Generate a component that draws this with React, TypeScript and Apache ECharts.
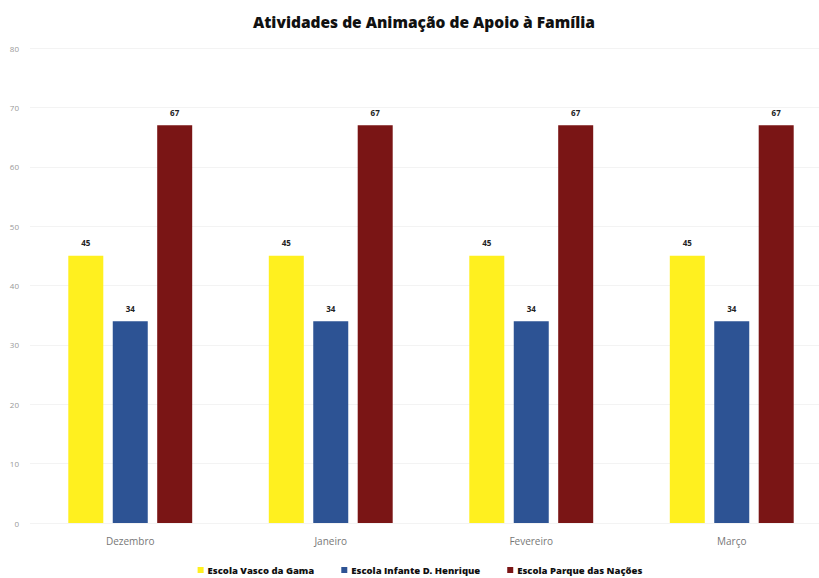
import React, { useEffect, useRef } from "react";
import * as echarts from "echarts";

const categories = ["Dezembro", "Janeiro", "Fevereiro", "Março"];
const seriesNames = ["Escola Vasco da Gama", "Escola Infante D. Henrique", "Escola Parque das Nações"];
const vascoDaGama = [45, 45, 45, 45];
const infanteDHenrique = [34, 34, 34, 34];
const parqueDasNacoes = [67, 67, 67, 67];
const colors = ["#FFF01F", "#2D5394", "#7A1515"];

export default function App() {
  const ref = useRef<HTMLDivElement>(null);
  useEffect(() => {
    if (!ref.current) return;
    const chart = echarts.init(ref.current, null, { renderer: "svg" });
    const data = [vascoDaGama, infanteDHenrique, parqueDasNacoes];
    chart.setOption({
      animation: false,
      backgroundColor: "#ffffff",
      title: {
        text: "Atividades de Animação de Apoio à Família",
        left: 419,
        textAlign: "center",
        top: 9,
        textStyle: { fontFamily: "Open Sans", fontWeight: 800, fontSize: 15.5, color: "#111" },
      },
      legend: {
        top: 565,
        left: "center",
        padding: 0,
        itemWidth: 6,
        itemHeight: 6,
        itemGap: 27,
        icon: "rect",
        textStyle: { fontFamily: "Open Sans", fontWeight: 800, fontSize: 9.5, color: "#111", padding: [0, 0, 0, -1] },
        data: seriesNames,
      },
      grid: { left: 30, right: 8, top: 48, bottom: 55 },
      xAxis: {
        type: "category",
        data: categories,
        axisLine: { show: false },
        axisTick: { show: false },
        axisLabel: { color: "#777", fontFamily: "Open Sans", fontSize: 10, margin: 13 },
      },
      yAxis: {
        type: "value",
        min: 0,
        max: 80,
        interval: 10,
        axisLabel: { color: "#999", fontFamily: "Open Sans", fontSize: 8, margin: 11 },
        splitLine: { lineStyle: { color: "#f3f3f3" } },
        axisLine: { show: false },
        axisTick: { show: false },
      },
      series: seriesNames.map((name, i) => ({
        name,
        type: "bar",
        data: data[i],
        itemStyle: { color: colors[i] },
        barWidth: 35,
        barGap: "27%",
        label: {
          show: true,
          position: "top",
          distance: 9,
          fontFamily: "Open Sans",
          fontWeight: "bold",
          fontSize: 8,
          color: "#222",
        },
      })),
    });
    return () => chart.dispose();
  }, []);
  return (
    <div style={{ position: "absolute", left: 0, top: 0, width: 819, height: 578, overflow: "hidden" }}>
      <div ref={ref} style={{ width: 840, height: 578 }} />
    </div>
  );
}
